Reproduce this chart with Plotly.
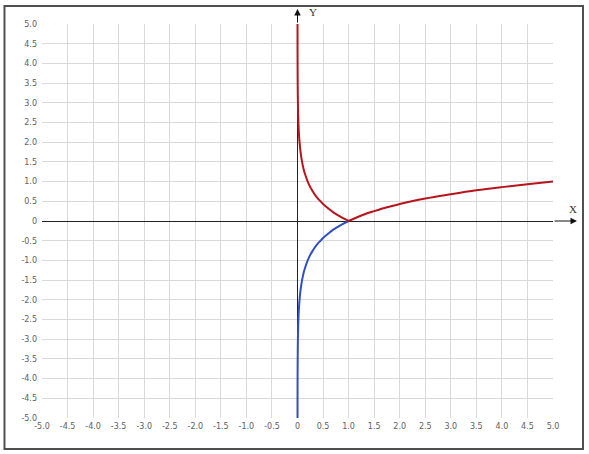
import plotly.graph_objects as go

# Values
red_left_x = [0.0003, 0.001, 0.003, 0.006, 0.01, 0.02, 0.03, 0.045, 0.06, 0.08, 0.1, 0.125, 0.15, 0.2, 0.25,
              0.3, 0.35, 0.4, 0.45, 0.5, 0.6, 0.7, 0.8, 0.9, 1.0]
red_left_y = [5.0, 4.29, 3.61, 3.18, 2.86, 2.43, 2.18, 1.93, 1.75, 1.57, 1.43, 1.29, 1.18, 1.0, 0.86,
              0.75, 0.65, 0.57, 0.50, 0.43, 0.32, 0.22, 0.14, 0.065, 0.0]
red_right_x = [1.0, 1.25, 1.5, 1.75, 2.0, 2.5, 3.0, 3.5, 4.0, 4.5, 5.0]
red_right_y = [0.0, 0.14, 0.25, 0.35, 0.43, 0.57, 0.68, 0.78, 0.86, 0.93, 1.0]
blue_x = [0.0003, 0.001, 0.003, 0.006, 0.01, 0.02, 0.03, 0.045, 0.06, 0.08, 0.1, 0.125, 0.15, 0.2, 0.25,
          0.3, 0.35, 0.4, 0.45, 0.5, 0.6, 0.7, 0.8, 0.9, 1.0]
blue_y = [-5.0, -4.29, -3.61, -3.18, -2.86, -2.43, -2.18, -1.93, -1.75, -1.57, -1.43, -1.29, -1.18, -1.0, -0.86,
          -0.75, -0.65, -0.57, -0.50, -0.43, -0.32, -0.22, -0.14, -0.065, 0.0]

tick_vals = [-5.0, -4.5, -4.0, -3.5, -3.0, -2.5, -2.0, -1.5, -1.0, -0.5, 0, 0.5, 1.0, 1.5, 2.0, 2.5,
             3.0, 3.5, 4.0, 4.5, 5.0]
tick_text = ["-5.0", "-4.5", "-4.0", "-3.5", "-3.0", "-2.5", "-2.0", "-1.5", "-1.0", "-0.5", "0",
             "0.5", "1.0", "1.5", "2.0", "2.5", "3.0", "3.5", "4.0", "4.5", "5.0"]

RED = "#b8141c"
BLUE = "#3050c0"

fig = go.Figure()
fig.add_trace(go.Scatter(x=blue_x, y=blue_y, mode="lines",
                         line=dict(color=BLUE, width=2, shape="spline", smoothing=1.0), hoverinfo="skip"))
fig.add_trace(go.Scatter(x=red_left_x, y=red_left_y, mode="lines",
                         line=dict(color=RED, width=2, shape="spline", smoothing=1.0), hoverinfo="skip"))
fig.add_trace(go.Scatter(x=red_right_x, y=red_right_y, mode="lines",
                         line=dict(color=RED, width=2, shape="spline", smoothing=1.0), hoverinfo="skip"))

axis_common = dict(
    tickmode="array", tickvals=tick_vals, ticktext=tick_text,
    showgrid=True, gridcolor="#d9d9d9", gridwidth=1,
    zeroline=True, zerolinecolor="#222222", zerolinewidth=1,
    showline=False, ticks="", tickfont=dict(family="DejaVu Sans", size=8, color="#606060"),
    range=[-5, 5],
)
fig.update_xaxes(**axis_common, ticklabelstandoff=2)
fig.update_yaxes(**axis_common, ticklabelstandoff=4)

# Axis arrow extensions (paper coords, pixel tails)
fig.add_annotation(x=1.047, y=0.5, xref="paper", yref="paper", ax=-24, ay=0,
                   text="", showarrow=True, arrowhead=2, arrowsize=1.3, arrowwidth=1, arrowcolor="#111111")
fig.add_annotation(x=0.5, y=1.038, xref="paper", yref="paper", ax=0, ay=15,
                   text="", showarrow=True, arrowhead=2, arrowsize=1.3, arrowwidth=1, arrowcolor="#111111")
fig.add_annotation(x=1.05, y=0.53, xref="paper", yref="paper", text="X", showarrow=False,
                   font=dict(family="Liberation Serif", size=11, color="#333333"))
fig.add_annotation(x=0.53, y=1.052, xref="paper", yref="paper", text="Y", showarrow=False,
                   font=dict(family="Liberation Serif", size=11, color="#333333"))

# Outer frame
fig.add_shape(type="rect", xref="paper", yref="paper", x0=-0.0734, x1=1.0587, y0=-0.0787, y1=1.046,
              line=dict(color="#505050", width=2), layer="above")

fig.update_layout(
    width=589, height=454,
    margin=dict(l=42, r=36, t=24, b=36),
    paper_bgcolor="white", plot_bgcolor="white",
    showlegend=False,
)

fig.write_html("out.html", post_script="document.body.style.margin='0';",
               config={"displayModeBar": False})
